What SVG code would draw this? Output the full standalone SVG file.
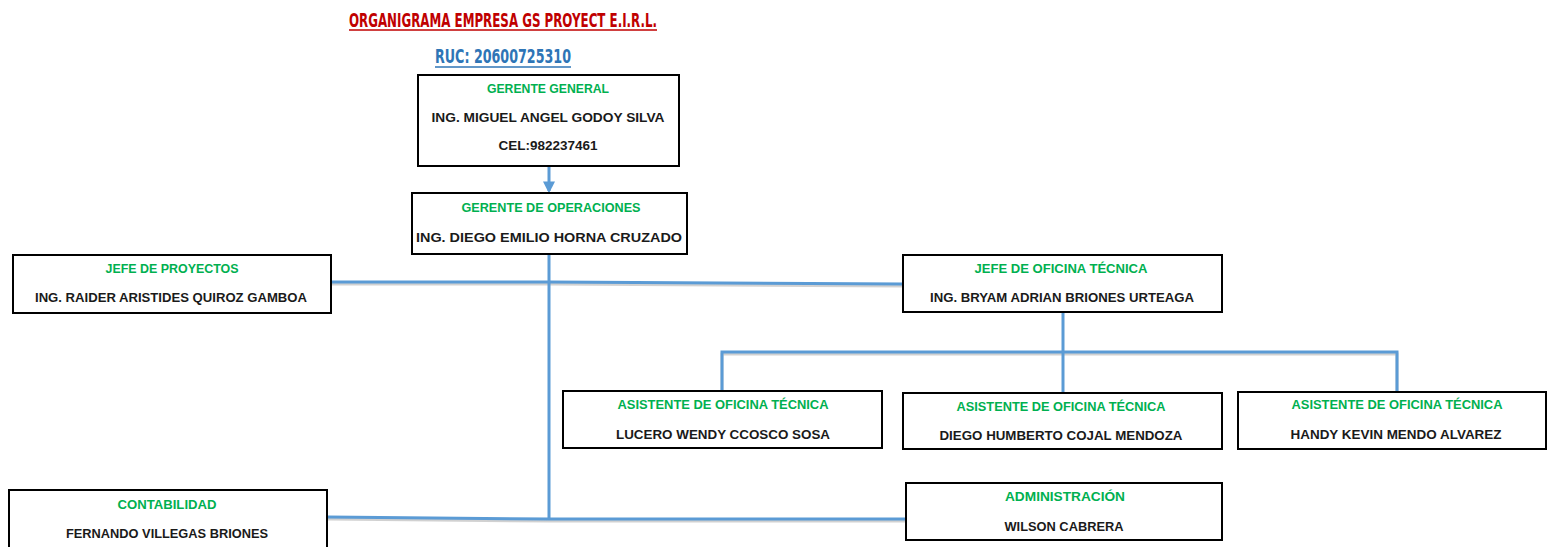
<svg xmlns="http://www.w3.org/2000/svg" width="1548" height="547" viewBox="0 0 1548 547">
<defs>
<style>
.box{fill:#fff;stroke:#000;stroke-width:2}
.t{font-family:"Liberation Sans",Arial,sans-serif;font-weight:bold;font-size:12.5px;fill:#00B050;text-anchor:middle}
.n{font-family:"Liberation Sans",Arial,sans-serif;font-weight:bold;font-size:12.5px;fill:#1a1a1a;text-anchor:middle}
.h{font-family:"DejaVu Sans Condensed","DejaVu Sans",sans-serif;font-weight:bold;font-size:19px}
.c{fill:none;stroke:#5B9BD5;stroke-width:3}
.s{fill:none;stroke:#000;stroke-opacity:0.18;stroke-width:3}
</style>
<marker id="arr" viewBox="0 0 10 10" refX="8" refY="5" markerWidth="4" markerHeight="4" orient="auto">
<path d="M0,0 L10,5 L0,10 z" fill="#5B9BD5"/>
</marker>
</defs>
<rect width="1548" height="547" fill="#fff"/>
<g id="title">
<text class="h" x="349" y="27" fill="#C00000" textLength="308" lengthAdjust="spacingAndGlyphs">ORGANIGRAMA EMPRESA GS PROYECT E.I.R.L.</text>
<line x1="349" y1="30" x2="657" y2="30" stroke="#C00000" stroke-width="1.5"/>
<text class="h" x="435" y="63" fill="#2E75B6" textLength="136" lengthAdjust="spacingAndGlyphs">RUC: 20600725310</text>
<line x1="435" y1="67" x2="571" y2="67" stroke="#2E75B6" stroke-width="1.5"/>
</g>
<g id="connectors">
<g transform="translate(0,2)">
<path class="s" d="M330,282 L549,282 L903,284"/>
<path class="s" d="M328,517 L549,519 L905,519"/>
<path class="s" d="M722,391 L722,352 L1397,352 L1397,391"/>
</g>
<line class="c" x1="549" y1="167" x2="549" y2="191" marker-end="url(#arr)"/>
<path class="c" d="M549,254 L549,519"/>
<path class="c" d="M330,282 L549,282 L903,284"/>
<path class="c" d="M328,517 L549,519 L905,519"/>
<path class="c" d="M1063,312 L1063,392"/>
<path class="c" d="M722,391 L722,352 L1397,352 L1397,392"/>
</g>
<g id="gerente-general">
<rect class="box" x="418" y="75" width="261" height="91"/>
<text class="t" x="548" y="93" textLength="122" lengthAdjust="spacingAndGlyphs">GERENTE GENERAL</text>
<text class="n" x="548" y="122" textLength="233" lengthAdjust="spacingAndGlyphs">ING. MIGUEL ANGEL GODOY SILVA</text>
<text class="n" x="548" y="150" textLength="99" lengthAdjust="spacingAndGlyphs">CEL:982237461</text>
</g>
<g id="gerente-operaciones">
<rect class="box" x="412" y="193" width="275" height="61"/>
<text class="t" x="551" y="212" textLength="179" lengthAdjust="spacingAndGlyphs">GERENTE DE OPERACIONES</text>
<text class="n" x="549" y="242" textLength="266" lengthAdjust="spacingAndGlyphs">ING. DIEGO EMILIO HORNA CRUZADO</text>
</g>
<g id="jefe-proyectos">
<rect class="box" x="13" y="255" width="318" height="58"/>
<text class="t" x="172" y="273" textLength="133" lengthAdjust="spacingAndGlyphs">JEFE DE PROYECTOS</text>
<text class="n" x="171" y="302" textLength="272" lengthAdjust="spacingAndGlyphs">ING. RAIDER ARISTIDES QUIROZ GAMBOA</text>
</g>
<g id="jefe-oficina-tecnica">
<rect class="box" x="903" y="255" width="319" height="57"/>
<text class="t" x="1061" y="273" textLength="173" lengthAdjust="spacingAndGlyphs">JEFE DE OFICINA TÉCNICA</text>
<text class="n" x="1062" y="302" textLength="264" lengthAdjust="spacingAndGlyphs">ING. BRYAM ADRIAN BRIONES URTEAGA</text>
</g>
<g id="asistente-1">
<rect class="box" x="563" y="391" width="319" height="57"/>
<text class="t" x="723" y="409" textLength="211" lengthAdjust="spacingAndGlyphs">ASISTENTE DE OFICINA TÉCNICA</text>
<text class="n" x="723" y="439" textLength="214" lengthAdjust="spacingAndGlyphs">LUCERO WENDY CCOSCO SOSA</text>
</g>
<g id="asistente-2">
<rect class="box" x="903" y="393" width="319" height="56"/>
<text class="t" x="1061" y="411" textLength="209" lengthAdjust="spacingAndGlyphs">ASISTENTE DE OFICINA TÉCNICA</text>
<text class="n" x="1061" y="440" textLength="243" lengthAdjust="spacingAndGlyphs">DIEGO HUMBERTO COJAL MENDOZA</text>
</g>
<g id="asistente-3">
<rect class="box" x="1238" y="392" width="308" height="57"/>
<text class="t" x="1397" y="409" textLength="211" lengthAdjust="spacingAndGlyphs">ASISTENTE DE OFICINA TÉCNICA</text>
<text class="n" x="1396" y="439" textLength="211" lengthAdjust="spacingAndGlyphs">HANDY KEVIN MENDO ALVAREZ</text>
</g>
<g id="contabilidad">
<rect class="box" x="9" y="490" width="318" height="60"/>
<text class="t" x="167" y="509" textLength="99" lengthAdjust="spacingAndGlyphs">CONTABILIDAD</text>
<text class="n" x="167" y="538" textLength="202" lengthAdjust="spacingAndGlyphs">FERNANDO VILLEGAS BRIONES</text>
</g>
<g id="administracion">
<rect class="box" x="906" y="483" width="316" height="57"/>
<text class="t" x="1065" y="501" textLength="120" lengthAdjust="spacingAndGlyphs">ADMINISTRACIÓN</text>
<text class="n" x="1064" y="531" textLength="119" lengthAdjust="spacingAndGlyphs">WILSON CABRERA</text>
</g>
</svg>
